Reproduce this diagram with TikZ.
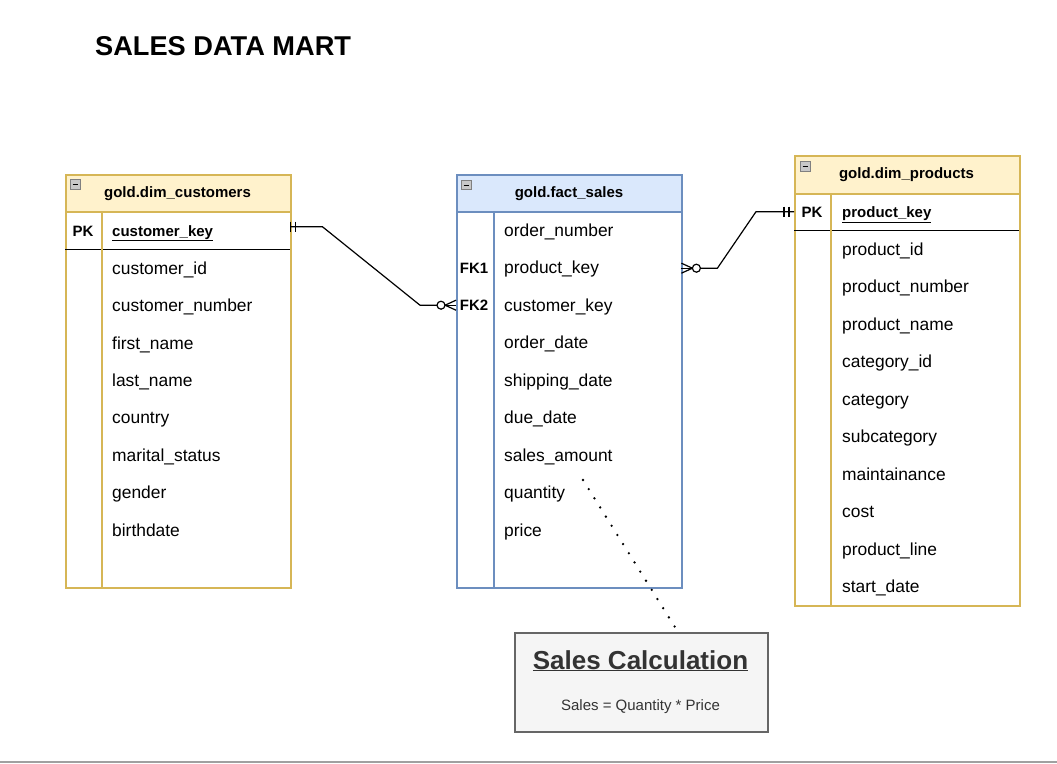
\documentclass[tikz,border=0pt]{standalone}
\usepackage{fontspec}
\setmainfont{Liberation Sans}
\usetikzlibrary{calc}
\definecolor{yfill}{HTML}{FFF2CC}
\definecolor{ydraw}{HTML}{D6B656}
\definecolor{bfill}{HTML}{DAE8FC}
\definecolor{bdraw}{HTML}{6C8EBF}
\definecolor{nfill}{HTML}{F5F5F5}
\definecolor{ndraw}{HTML}{666666}
\definecolor{ntext}{HTML}{333333}
\definecolor{icofill}{HTML}{C8C8C8}
\definecolor{icodraw}{HTML}{808080}
\definecolor{baseline}{HTML}{A0A0A0}
\begin{document}
\begin{tikzpicture}[x=1pt,y=-1pt,
  tbl/.style={draw=#1, line width=1.6pt, anchor=north west, minimum width=225pt, inner sep=0pt},
  hdrfont/.style={anchor=base, inner sep=0pt, font=\bfseries\fontsize{15}{18}\selectfont},
  fld/.style={anchor=base west, inner sep=0pt, font=\fontsize{17.4}{20}\selectfont},
  keyl/.style={anchor=base, inner sep=0pt, font=\bfseries\fontsize{15}{18}\selectfont},
  rowbox/.style={anchor=north west, minimum width=225pt, inner sep=0pt, minimum height=37.5pt},
  conn/.style={line width=1.2pt, line join=round},
  icon/.style={draw=icodraw, fill=icofill, line width=0.9pt},
  divider/.style={draw=#1, line width=1.6pt}
]
\useasboundingbox (0,0) rectangle (1057,763);

% title
\node[anchor=base west, inner sep=0pt, font=\bfseries\fontsize{27.2}{32}\selectfont] (title) at (95,55) {SALES DATA MART};

% ---------------- customers ----------------
\node[tbl=ydraw, fill=white, minimum height=413pt] (cust) at (65,174) {};
\node[tbl=ydraw, fill=yfill, minimum height=37pt] (custh) at (65,174) {};
\node[hdrfont] (custht) at (177.5,197.5) {gold.dim\_customers};
\draw[icon] (70,179.5) rectangle (80.5,189.5);
\draw[line width=0.9pt] (72.5,184.5) -- (78,184.5);
\node[rowbox, minimum height=38pt] (custpk) at (65,211) {};
\draw[line width=1.3pt] (custpk.south west) -- (custpk.south east);
\draw[divider=ydraw] (102,211) -- (102,587);
\node[keyl] (custpkl) at (83,236) {PK};
\node[fld, font=\bfseries\fontsize{15}{18}\selectfont] (custkey) at (112,236) {\underline{customer\_key}};
\foreach \t [count=\i] in {customer\_id, customer\_number, first\_name, last\_name, country, marital\_status, gender, birthdate}
  \node[fld] (cust-\i) at (112,{268+37.43*(\i-1)+6.2}) {\t};

% ---------------- fact sales ----------------
\node[tbl=bdraw, fill=white, minimum height=413pt] (fact) at (456,174) {};
\node[tbl=bdraw, fill=bfill, minimum height=37pt] (facth) at (456,174) {};
\node[hdrfont] (factht) at (569,197.5) {gold.fact\_sales};
\draw[icon] (461.5,180.5) rectangle (471,189.5);
\draw[line width=0.9pt] (463.5,185) -- (469,185);
\draw[divider=bdraw] (494,211) -- (494,587);
\node[rowbox] (factfk1) at (456,249.25) {};
\node[rowbox] (factfk2) at (456,286.25) {};
\node[keyl] (fk1l) at (474,273.4) {FK1};
\node[keyl] (fk2l) at (474,310.4) {FK2};
\foreach \t [count=\i] in {order\_number, product\_key, customer\_key, order\_date, shipping\_date, due\_date, sales\_amount, quantity, price}
  \node[fld] (fact-\i) at (504,{230+37.5*(\i-1)+6.2}) {\t};

% ---------------- products ----------------
\node[tbl=ydraw, fill=white, minimum height=450pt] (prod) at (794,155) {};
\node[tbl=ydraw, fill=yfill, minimum height=38pt] (prodh) at (794,155) {};
\node[hdrfont] (prodht) at (906.5,178.5) {gold.dim\_products};
\draw[icon] (800,161) rectangle (810.5,171);
\draw[line width=0.9pt] (802.5,166) -- (808,166);
\node[rowbox, minimum height=37pt] (prodpk) at (794,193) {};
\draw[line width=1.3pt] (prodpk.south west) -- (prodpk.south east);
\draw[divider=ydraw] (831,193) -- (831,605);
\node[keyl] (prodpkl) at (812,217.4) {PK};
\node[fld, font=\bfseries\fontsize{15}{18}\selectfont] (prodkey) at (842,217.4) {\underline{product\_key}};
\foreach \t [count=\i] in {product\_id, product\_number, product\_name, category\_id, category, subcategory, maintainance, cost, product\_line, start\_date}
  \node[fld] (prod-\i) at (842,{249+37.5*(\i-1)+6.2}) {\t};

% ---------------- connectors ----------------
% customers (one) -> fact (zero or many)
\coordinate (c1) at ([yshift=3.5pt]custpk.east);
\coordinate (c2) at (factfk2.west);
\draw[conn] (c1) -- ++(32,0) -- ($(c2)+(-36,0)$) -- ($(c2)+(-19,0)$);
\draw[conn] ($(c1)+(0,-5)$) -- ($(c1)+(0,5)$);
\draw[conn] ($(c1)+(5,-5)$) -- ($(c1)+(5,5)$);
\draw[conn, fill=white] ($(c2)+(-15,0)$) circle (4);
\draw[conn] ($(c2)+(-11,0)$) -- ($(c2)+(0,-5)$);
\draw[conn] ($(c2)+(-11,0)$) -- (c2);
\draw[conn] ($(c2)+(-11,0)$) -- ($(c2)+(0,5)$);

% fact (zero or many) -> products (one)
\coordinate (p1) at (factfk1.east);
\coordinate (p2) at (prodpk.west);
\draw[conn] ($(p1)+(19,0)$) -- ($(p1)+(36,0)$) -- ($(p2)+(-38,0)$) -- (p2);
\draw[conn, fill=white] ($(p1)+(15,0)$) circle (4);
\draw[conn] ($(p1)+(11,0)$) -- ($(p1)+(0,-5)$);
\draw[conn] ($(p1)+(11,0)$) -- (p1);
\draw[conn] ($(p1)+(11,0)$) -- ($(p1)+(0,5)$);
\draw[conn] ($(p2)+(-5,-5)$) -- ($(p2)+(-5,5)$);
\draw[conn] ($(p2)+(-10,-5)$) -- ($(p2)+(-10,5)$);

% ---------------- note ----------------
\node[draw=ndraw, fill=nfill, line width=1.6pt, minimum width=253pt, minimum height=99pt, anchor=north west, inner sep=0pt] (note) at (514,632) {};
\node[anchor=base, inner sep=0pt, text=ntext, font=\bfseries\fontsize{26}{30}\selectfont] (notet) at (640.5,669) {\underline{Sales Calculation}};
\node[anchor=base, inner sep=0pt, text=ntext, font=\fontsize{15}{18}\selectfont] (notes) at (640.5,710) {Sales = Quantity * Price};
\coordinate (q) at (583,480);
\draw[line width=2.6pt, line cap=round, dash pattern=on 0pt off 10.8pt] (q) -- ([xshift=38pt,yshift=-2pt]note.north);

% bottom rule
\draw[draw=baseline, line width=1.2pt] (0,762) -- (1057,762);
\end{tikzpicture}
\end{document}
